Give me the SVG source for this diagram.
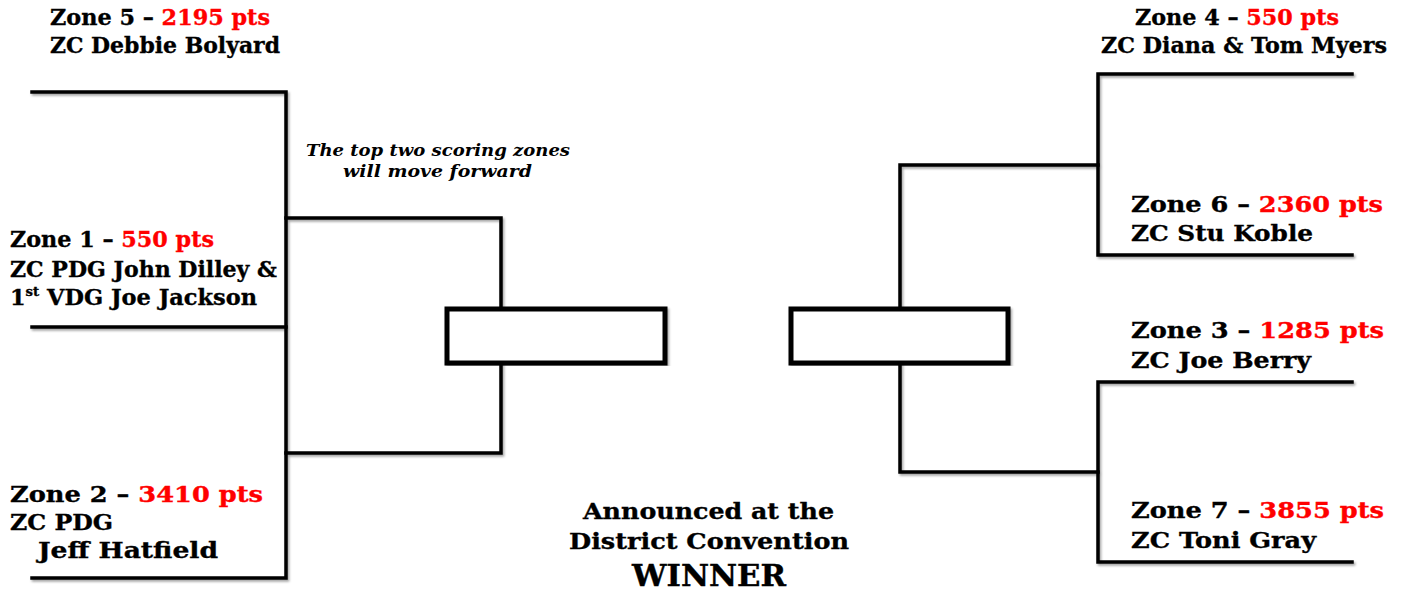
<svg xmlns="http://www.w3.org/2000/svg" width="1403" height="591" viewBox="0 0 1403 591">
<defs>
<filter id="sh" x="-5%" y="-5%" width="110%" height="110%">
<feDropShadow dx="1.5" dy="2" stdDeviation="1.2" flood-color="#000" flood-opacity="0.35"/>
</filter>
</defs>
<style>
.ln{fill:none;stroke:#000;stroke-width:3.5;stroke-linejoin:miter;stroke-linecap:square}
.bx{fill:#fff;stroke:#000;stroke-width:5}
.t{font-family:"DejaVu Serif","Liberation Serif",serif;font-weight:bold;font-size:22px;fill:#000;stroke:#000;stroke-width:0.35}
.r{fill:#ff0000;stroke:#ff0000}
.it{font-family:"DejaVu Serif","Liberation Serif",serif;font-weight:bold;font-style:italic;font-size:16.5px;fill:#000}
.c{font-family:"DejaVu Serif","Liberation Serif",serif;font-weight:bold;font-size:22px;fill:#000;stroke:#000;stroke-width:0.35}
.w{font-family:"DejaVu Serif","Liberation Serif",serif;font-weight:bold;font-size:29px;fill:#000;stroke:#000;stroke-width:0.4}
</style>
<rect width="1403" height="591" fill="#fff"/>
<g id="connectors" filter="url(#sh)">
<path class="ln" d="M32 92 H286 V578 H32"/>
<path class="ln" d="M32 327 H286"/>
<path class="ln" d="M286 218 H501 V309"/>
<path class="ln" d="M286 453 H501 V363"/>
<path class="ln" d="M1352 74 H1098 V255 H1352"/>
<path class="ln" d="M1098 165 H900 V309"/>
<path class="ln" d="M1352 382 H1098 V562 H1352"/>
<path class="ln" d="M1098 472 H900 V363"/>
</g>
<g id="semi-left" filter="url(#sh)"><rect class="bx" x="447" y="309" width="218" height="54"/></g>
<g id="semi-right" filter="url(#sh)"><rect class="bx" x="791" y="309" width="217" height="54"/></g>
<g id="zone5">
<text class="t" x="50" y="25" textLength="220" lengthAdjust="spacingAndGlyphs">Zone 5 – <tspan class="r">2195 pts</tspan></text>
<text class="t" x="50" y="53" textLength="230" lengthAdjust="spacingAndGlyphs">ZC Debbie Bolyard</text>
</g>
<g id="zone1">
<text class="t" x="10" y="247" textLength="204" lengthAdjust="spacingAndGlyphs">Zone 1 – <tspan class="r">550 pts</tspan></text>
<text class="t" x="10" y="277" textLength="267" lengthAdjust="spacingAndGlyphs">ZC PDG John Dilley &amp;</text>
<text class="t" x="10" y="305" textLength="247" lengthAdjust="spacingAndGlyphs">1<tspan font-size="13" dy="-9">st</tspan><tspan dy="9"> VDG Joe Jackson</tspan></text>
</g>
<g id="zone2">
<text class="t" x="10" y="502" textLength="253" lengthAdjust="spacingAndGlyphs">Zone 2 – <tspan class="r">3410 pts</tspan></text>
<text class="t" x="10" y="530" textLength="103" lengthAdjust="spacingAndGlyphs">ZC PDG</text>
<text class="t" x="38" y="558" textLength="180" lengthAdjust="spacingAndGlyphs">Jeff Hatfield</text>
</g>
<g id="zone4">
<text class="t" x="1135" y="25" textLength="204" lengthAdjust="spacingAndGlyphs">Zone 4 – <tspan class="r">550 pts</tspan></text>
<text class="t" x="1101" y="53" textLength="286" lengthAdjust="spacingAndGlyphs">ZC Diana &amp; Tom Myers</text>
</g>
<g id="zone6">
<text class="t" x="1131" y="212" textLength="252" lengthAdjust="spacingAndGlyphs">Zone 6 – <tspan class="r">2360 pts</tspan></text>
<text class="t" x="1131" y="241" textLength="182" lengthAdjust="spacingAndGlyphs">ZC Stu Koble</text>
</g>
<g id="zone3">
<text class="t" x="1131" y="338" textLength="253" lengthAdjust="spacingAndGlyphs">Zone 3 – <tspan class="r">1285 pts</tspan></text>
<text class="t" x="1131" y="368" textLength="180" lengthAdjust="spacingAndGlyphs">ZC Joe Berry</text>
</g>
<g id="zone7">
<text class="t" x="1131" y="518" textLength="253" lengthAdjust="spacingAndGlyphs">Zone 7 – <tspan class="r">3855 pts</tspan></text>
<text class="t" x="1131" y="548" textLength="185" lengthAdjust="spacingAndGlyphs">ZC Toni Gray</text>
</g>
<g id="note">
<text class="it" x="306" y="156" textLength="264" lengthAdjust="spacingAndGlyphs">The top two scoring zones</text>
<text class="it" x="343" y="177" textLength="189" lengthAdjust="spacingAndGlyphs">will move forward</text>
</g>
<g id="winner">
<text class="c" x="583" y="519" textLength="251" lengthAdjust="spacingAndGlyphs">Announced at the</text>
<text class="c" x="569" y="549" textLength="280" lengthAdjust="spacingAndGlyphs">District Convention</text>
<text class="w" x="632" y="586" textLength="154" lengthAdjust="spacingAndGlyphs">WINNER</text>
</g>
</svg>
